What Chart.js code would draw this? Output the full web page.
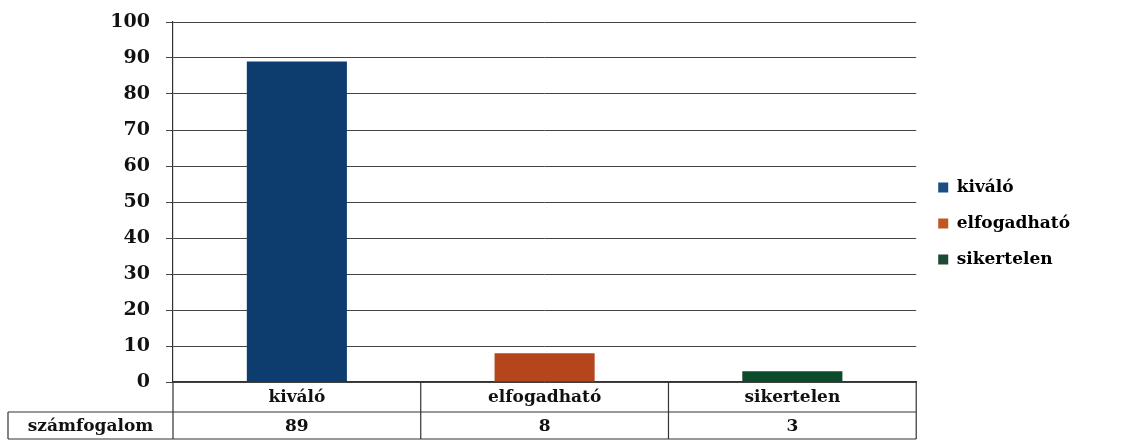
<!DOCTYPE html>
<html>
<head>
<meta charset="utf-8">
<script src="https://cdn.jsdelivr.net/npm/chart.js@4.4.1/dist/chart.umd.min.js"></script>
<style>
    body { margin: 0; background: #ffffff; }
    #wrap { width: 1125px; height: 441px; }
</style>
</head>
<body>
<div id="wrap"><canvas id="resultChart" width="1125" height="441"></canvas></div>
<script>
// Chart data
const categories = ["kiváló", "elfogadható", "sikertelen"];
const counts = [89, 8, 3];
const seriesName = "számfogalom";
const yTicks = [0, 10, 20, 30, 40, 50, 60, 70, 80, 90, 100];

const barColors = ["#0d3d6e", "#b5461b", "#0c4a2c"];
const legendColors = ["#1b4d82", "#c0571f", "#1a4a33"];
const fontFamily = "'DejaVu Serif', serif";

// Draws the data table under the x axis (like Excel's "data table")
const dataTablePlugin = {
    id: "dataTable",
    afterLayout(chart) {
        // nudge the legend a bit up and right, like the original
        const legend = chart.legend;
        legend.top -= 8;
        legend.bottom -= 8;
        legend.left += 3;
        legend.right += 3;
    },
    afterDraw(chart) {
        const ctx = chart.ctx;
        const x = chart.scales.x;
        const n = categories.length;
        const left = x.left;
        const right = x.right;
        const top = x.top;
        const mid = top + 30;
        const bottom = 439;
        const labelLeft = 8;
        const colW = (right - left) / n;

        ctx.save();
        ctx.strokeStyle = "#333333";
        ctx.lineWidth = 1.2;
        ctx.beginPath();
        // horizontal lines
        ctx.moveTo(labelLeft, mid); ctx.lineTo(right, mid);
        ctx.moveTo(labelLeft, bottom); ctx.lineTo(right, bottom);
        // vertical lines
        ctx.moveTo(labelLeft, mid); ctx.lineTo(labelLeft, bottom);
        for (let i = 0; i <= n; i++) {
            const px = left + i * colW;
            ctx.moveTo(px, top); ctx.lineTo(px, bottom);
        }
        ctx.stroke();

        ctx.fillStyle = "#111111";
        ctx.font = "bold 17px " + fontFamily;
        ctx.textAlign = "center";
        ctx.textBaseline = "middle";
        categories.forEach((cat, i) => {
            const cx = x.getPixelForValue(i);
            ctx.fillText(cat, cx, (top + mid) / 2 + 1);
            ctx.fillText(String(counts[i]), cx, (mid + bottom) / 2 + 1);
        });
        ctx.fillText(seriesName, (labelLeft + left) / 2, (mid + bottom) / 2 + 1);
        ctx.restore();
    }
};

const ctx = document.getElementById("resultChart").getContext("2d");

new Chart(ctx, {
    type: "bar",
    data: {
        labels: categories,
        datasets: [{
            label: seriesName,
            data: counts,
            backgroundColor: barColors,
            borderWidth: 0,
            categoryPercentage: 1,
            barPercentage: 0.404
        }]
    },
    options: {
        responsive: false,
        animation: false,
        layout: {
            padding: { top: 22, right: 48, bottom: 0, left: 0 }
        },
        plugins: {
            legend: {
                position: "right",
                labels: {
                    boxWidth: 10,
                    boxHeight: 10,
                    padding: 19,
                    color: "#111111",
                    font: { family: fontFamily, size: 17, weight: "bold" },
                    generateLabels: function() {
                        return categories.map((cat, i) => ({
                            text: cat,
                            fillStyle: legendColors[i],
                            strokeStyle: legendColors[i],
                            lineWidth: 0,
                            index: i
                        }));
                    }
                }
            },
            tooltip: { enabled: false }
        },
        scales: {
            x: {
                ticks: { display: false },
                grid: { display: false },
                border: { display: true, color: "#333333", width: 1.2 },
                afterFit: function(scale) {
                    scale.height = 59;
                }
            },
            y: {
                min: 0,
                max: 100,
                afterBuildTicks: function(scale) {
                    scale.ticks = yTicks.map(v => ({ value: v }));
                },
                ticks: {
                    padding: 16,
                    color: "#111111",
                    font: { family: fontFamily, size: 19, weight: "bold" }
                },
                grid: {
                    color: "#444444",
                    lineWidth: 1,
                    tickLength: 7
                },
                border: { display: true, color: "#333333", width: 1.2 },
                afterFit: function(scale) {
                    scale.width = 173;
                    // labels may overflow, the layout padding already leaves room
                    scale.paddingTop = 0;
                    scale.paddingBottom = 0;
                }
            }
        }
    },
    plugins: [dataTablePlugin]
});
</script>
</body>
</html>
